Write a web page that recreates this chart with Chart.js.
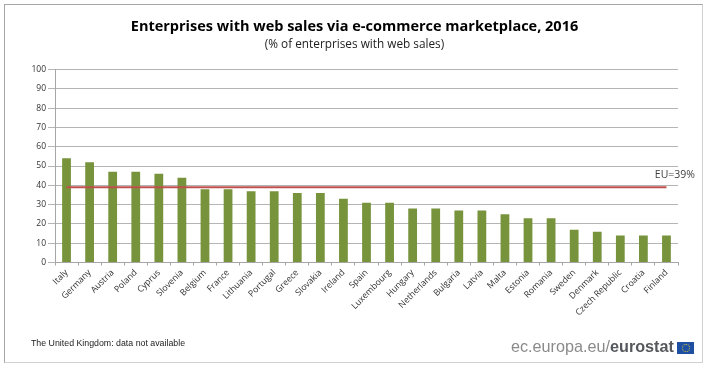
<!DOCTYPE html>
<html>
<head>
<meta charset="utf-8">
<script src="https://cdn.jsdelivr.net/npm/chart.js@4"></script>
<style>
  html, body { margin: 0; padding: 0; background: #fff; }
  #frame { position: relative; width: 709px; height: 368px; overflow: hidden; }
  #box { position: absolute; left: 4px; top: 4px; width: 697px; height: 357px; border: 1px solid #a6a6a6; border-right-color: #d0d0d0; border-bottom-color: #d0d0d0; }
  #chart { position: absolute; left: 0; top: 0; }
  .txt { position: absolute; white-space: nowrap; }
  #note { left: 31px; top: 338px; font: 8.8px "Liberation Sans", sans-serif; color: #222; }
  #site { left: 511px; top: 337px; font: 16.2px "Liberation Sans", sans-serif; color: #8a8a8a; }
  #site b { color: #55585c; }
  #flag { position: absolute; left: 677px; top: 342px; width: 17px; height: 12px; background: #1f4fa3; }
  #flag i { position: absolute; left: 5px; top: 2px; width: 6px; height: 6px; border: 1px dotted #d8c93a; border-radius: 50%; }
</style>
</head>
<body>
<div id="frame">
  <div id="box"></div>
  <canvas id="chart" width="709" height="368"></canvas>
  <div class="txt" id="note">The United Kingdom: data not available</div>
  <div class="txt" id="site">ec.europa.eu/<b>eurostat</b></div>
  <div id="flag"><i></i></div>
</div>
<script>
const countries = ['Italy', 'Germany', 'Austria', 'Poland', 'Cyprus', 'Slovenia', 'Belgium', 'France', 'Lithuania', 'Portugal', 'Greece', 'Slovakia', 'Ireland', 'Spain', 'Luxembourg', 'Hungary', 'Netherlands', 'Bulgaria', 'Latvia', 'Malta', 'Estonia', 'Romania', 'Sweden', 'Denmark', 'Czech Republic', 'Croatia', 'Finland'];
const webSales = [54, 52, 47, 47, 46, 44, 38, 38, 37, 37, 36, 36, 33, 31, 31, 28, 28, 27, 27, 25, 23, 23, 17, 16, 14, 14, 14];
const euAverage = [39, 39, 39, 39, 39, 39, 39, 39, 39, 39, 39, 39, 39, 39, 39, 39, 39, 39, 39, 39, 39, 39, 39, 39, 39, 39, 39];
const yTicks = [0, 10, 20, 30, 40, 50, 60, 70, 80, 90, 100];

/* EU label sits just above the right end of the line */
const euLabel = {
  id: 'euLabel',
  afterDraw(chart) {
    const c = chart.ctx;
    c.save();
    c.font = '10.5px "Open Sans", sans-serif';
    c.fillStyle = '#404040';
    c.textAlign = 'right';
    c.fillText('EU=39%', 695, chart.scales.y.getPixelForValue(39) - 9);
    c.restore();
  }
};

new Chart(document.getElementById('chart'), {
  data: {
    labels: countries,
    datasets: [
      { type: 'line', data: euAverage, borderColor: '#c0504d', borderWidth: 2, pointRadius: 0, order: 0 },
      { type: 'bar', data: webSales, backgroundColor: '#77933c', barPercentage: 0.38, categoryPercentage: 1, order: 1 }
    ]
  },
  options: {
    responsive: false,
    animation: false,
    layout: { padding: { left: 31, right: 31, top: 18, bottom: 48 } },
    plugins: {
      legend: { display: false },
      tooltip: { enabled: false },
      title: {
        display: true,
        text: 'Enterprises with web sales via e-commerce marketplace, 2016',
        color: '#000',
        font: { family: '"Open Sans", sans-serif', size: 14.5, weight: 'bold' },
        padding: { top: 0, bottom: 2 }
      },
      subtitle: {
        display: true,
        text: '(% of enterprises with web sales)',
        color: '#222',
        font: { family: '"Open Sans", sans-serif', size: 11.8 },
        padding: { bottom: 18 }
      }
    },
    scales: {
      x: {
        grid: { drawOnChartArea: false, color: '#a6a6a6', tickLength: 3 },
        border: { color: '#a6a6a6' },
        ticks: { color: '#333', font: { family: '"Open Sans", sans-serif', size: 8.7 }, maxRotation: 45, minRotation: 45, autoSkip: false, padding: 2 }
      },
      y: {
        min: 0,
        max: 100,
        afterBuildTicks(axis) { axis.ticks = yTicks.map(v => ({ value: v })); },
        afterFit(axis) { axis.width = 24; },
        grid: { color: '#b5b5b5', tickLength: 7 },
        border: { color: '#a6a6a6' },
        ticks: { color: '#333', font: { family: '"Open Sans", sans-serif', size: 8.5 }, padding: 2 }
      }
    }
  },
  plugins: [euLabel]
});
</script>
</body>
</html>
